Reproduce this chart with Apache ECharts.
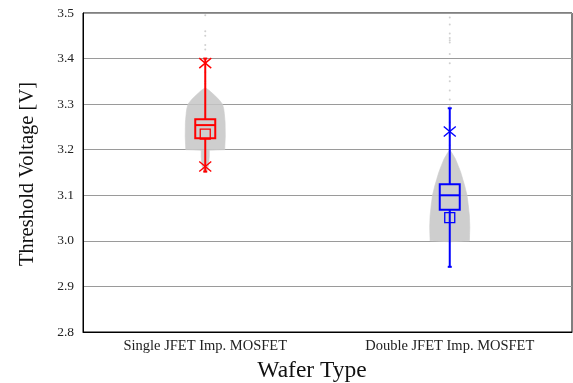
<!DOCTYPE html>
<html>
<head>
<meta charset="utf-8">
<script src="https://cdn.jsdelivr.net/npm/echarts@6/dist/echarts.min.js"></script>
<style>
html,body{margin:0;padding:0;background:#fff;}
#chart{width:573px;height:383px;}
</style>
</head>
<body>
<div id="chart"></div>
<script>
// ---- data ----
const categories = ['Single JFET Imp. MOSFET', 'Double JFET Imp. MOSFET'];
const whiskerLow  = [3.152, 2.943];
const q1          = [3.225, 3.068];
const median      = [3.254, 3.100];
const q3          = [3.267, 3.124];
const whiskerHigh = [3.400, 3.291];
const meanValue   = [3.234, 3.051];
const xMarkCat    = [0, 0, 1];
const xMarkValue  = [3.390, 3.163, 3.240];
const yTicks = [2.8, 2.9, 3.0, 3.1, 3.2, 3.3, 3.4, 3.5];

// density profile of the grey point clouds (value level, relative width)
const redCloudLevels  = [3.150, 3.165, 3.185, 3.199, 3.200, 3.230, 3.260, 3.280, 3.290, 3.300, 3.310, 3.320, 3.330, 3.336];
const redCloudDensity = [0.05,  0.16,  0.2,   0.2,   0.97,  1.0,   0.99,  0.95,  0.92,  0.86,  0.68,  0.45,  0.2,   0.0];
const blueCloudLevels  = [2.998, 3.000, 3.030, 3.055, 3.080, 3.100, 3.120, 3.135, 3.150, 3.165, 3.180, 3.192, 3.200];
const blueCloudDensity = [0.0,   0.98,  1.0,   0.98,  0.92,  0.86,  0.75,  0.65,  0.55,  0.42,  0.28,  0.12,  0.0];

// sparse grey points above the clouds
const redSparseValues  = [3.495, 3.46, 3.45, 3.43, 3.42, 3.37, 3.35, 3.345];
const blueSparseValues = [3.49, 3.475, 3.455, 3.445, 3.44, 3.435, 3.41, 3.39, 3.36, 3.35, 3.33, 3.31, 3.295, 3.26, 3.23, 3.21];

const colors = ['#ff0000', '#0000ff'];

const chart = echarts.init(document.getElementById('chart'), null, {renderer: 'canvas'});

const boxData = categories.map((c, i) => [i, whiskerLow[i], q1[i], median[i], q3[i], whiskerHigh[i], meanValue[i]]);
const xMarkData = xMarkCat.map((c, i) => [c, xMarkValue[i]]);
const cloudData = [
  {levels: redCloudLevels, dens: redCloudDensity, cat: 0},
  {levels: blueCloudLevels, dens: blueCloudDensity, cat: 1}
];
const sparseData = redSparseValues.map(v => [0, v]).concat(blueSparseValues.map(v => [1, v]));

const serif = 'Liberation Serif, Times New Roman, serif';

chart.setOption({
  animation: false,
  grid: {left: 83, right: 1, top: 13, bottom: 51, show: true, borderColor: '#000', borderWidth: 1},
  xAxis: {
    type: 'category',
    data: categories,
    boundaryGap: true,
    axisLine: {lineStyle: {color: '#000', width: 1}},
    axisTick: {alignWithLabel: true, inside: true, length: 6, lineStyle: {color: '#444'}},
    axisLabel: {fontFamily: serif, fontSize: 14.5, color: '#222', margin: 7},
    splitLine: {show: false}
  },
  yAxis: {
    type: 'value',
    min: 2.8, max: 3.5, interval: 0.1,
    axisLine: {show: true, lineStyle: {color: '#000', width: 1}},
    axisTick: {show: false},
    axisLabel: {fontFamily: serif, fontSize: 13.5, color: '#222', margin: 9,
      formatter: v => v.toFixed(1)},
    splitLine: {show: true, lineStyle: {color: '#9a9a9a', width: 1}}
  },
  graphic: [
    {type: 'text', x: 28, y: 174, rotation: Math.PI / 2,
      style: {text: 'Threshold Voltage [V]', fontFamily: serif, fontSize: 20.5, fill: '#111', align: 'center', verticalAlign: 'middle'}},
    {type: 'text', x: 312, y: 371,
      style: {text: 'Wafer Type', fontFamily: serif, fontSize: 23.5, fill: '#111', align: 'center', verticalAlign: 'middle'}}
  ],
  series: [
    {
      type: 'custom',
      name: 'cloud',
      silent: true,
      data: cloudData.map(d => [d.cat, d.levels[0]]),
      renderItem: function (params, api) {
        const d = cloudData[params.dataIndex];
        const band = api.size([1, 0])[0];
        const maxHalf = band * 0.082;
        const left = [], right = [];
        for (let k = 0; k < d.levels.length; k++) {
          const p = api.coord([d.cat, d.levels[k]]);
          left.push([p[0] - maxHalf * d.dens[k], p[1]]);
          right.unshift([p[0] + maxHalf * d.dens[k], p[1]]);
        }
        return {type: 'polygon', shape: {points: left.concat(right)},
          style: {fill: 'rgba(198,198,198,0.85)', stroke: 'rgba(205,205,205,0.6)', lineWidth: 1}};
      },
      z: 1
    },
    {
      type: 'scatter',
      name: 'sparse',
      silent: true,
      data: sparseData,
      symbolSize: 2,
      itemStyle: {color: '#c4c4c4'},
      z: 1
    },
    {
      type: 'custom',
      name: 'box',
      data: boxData,
      renderItem: function (params, api) {
        const i = api.value(0);
        const col = colors[i];
        const pLow = api.coord([i, api.value(1)]);
        const pQ1 = api.coord([i, api.value(2)]);
        const pMed = api.coord([i, api.value(3)]);
        const pQ3 = api.coord([i, api.value(4)]);
        const pHigh = api.coord([i, api.value(5)]);
        const pMean = api.coord([i, api.value(6)]);
        const bw = 20, sq = 10, cap = 2;
        const x = pMed[0];
        const st = {stroke: col, lineWidth: 2, fill: null};
        return {type: 'group', children: [
          {type: 'line', shape: {x1: x, y1: pHigh[1], x2: x, y2: pQ3[1]}, style: st},
          {type: 'line', shape: {x1: x, y1: pQ1[1], x2: x, y2: pLow[1]}, style: st},
          {type: 'line', shape: {x1: x - cap, y1: pHigh[1], x2: x + cap, y2: pHigh[1]}, style: st},
          {type: 'line', shape: {x1: x - cap, y1: pLow[1], x2: x + cap, y2: pLow[1]}, style: st},
          {type: 'rect', shape: {x: x - bw / 2, y: pQ3[1], width: bw, height: pQ1[1] - pQ3[1]}, style: st},
          {type: 'line', shape: {x1: x - bw / 2, y1: pMed[1], x2: x + bw / 2, y2: pMed[1]}, style: st},
          {type: 'rect', shape: {x: x - sq / 2, y: pMean[1] - sq / 2, width: sq, height: sq},
            style: {stroke: col, lineWidth: 1.3, fill: null}}
        ]};
      },
      z: 3
    },
    {
      type: 'custom',
      name: 'marks',
      data: xMarkData,
      renderItem: function (params, api) {
        const i = api.value(0);
        const p = api.coord([i, api.value(1)]);
        const hw = 6, hh = 5;
        const st = {stroke: colors[i], lineWidth: 1.4};
        return {type: 'group', children: [
          {type: 'line', shape: {x1: p[0] - hw, y1: p[1] - hh, x2: p[0] + hw, y2: p[1] + hh}, style: st},
          {type: 'line', shape: {x1: p[0] - hw, y1: p[1] + hh, x2: p[0] + hw, y2: p[1] - hh}, style: st}
        ]};
      },
      z: 4
    }
  ]
});
</script>
</body>
</html>
